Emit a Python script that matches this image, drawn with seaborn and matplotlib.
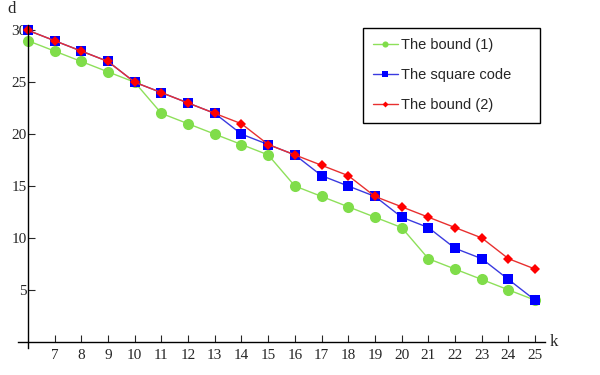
import pandas as pd
import matplotlib
matplotlib.use("Agg")
import matplotlib.pyplot as plt
import seaborn as sns

# data
k = list(range(6, 26))
bound1 = [29, 28, 27, 26, 25, 22, 21, 20, 19, 18, 15, 14, 13, 12, 11, 8, 7, 6, 5, 4]
square = [30, 29, 28, 27, 25, 24, 23, 22, 20, 19, 18, 16, 15, 14, 12, 11, 9, 8, 6, 4]
bound2 = [30, 29, 28, 27, 25, 24, 23, 22, 21, 19, 18, 17, 16, 14, 13, 12, 11, 10, 8, 7]

x_ticks = list(range(7, 26))
y_ticks = [5, 10, 15, 20, 25, 30]

df = pd.DataFrame({"k": k, "The bound (1)": bound1,
                   "The square code": square, "The bound (2)": bound2})

sns.set_style("white")
plt.rcParams["font.family"] = ["Liberation Serif", "DejaVu Serif"]

fig = plt.figure(figsize=(6, 3.75), dpi=100)
ax = fig.add_axes([0.03, 0.072, 0.878, 0.861])

sns.lineplot(data=df, x="k", y="The bound (1)", ax=ax, color="#8ee05a",
             marker="o", markersize=8, markeredgewidth=0, lw=1,
             markerfacecolor="#80dd4a", label="The bound (1)")
sns.lineplot(data=df, x="k", y="The square code", ax=ax, color="#3a3ae0",
             marker="s", markersize=7.5, markeredgewidth=0, lw=1,
             markerfacecolor="#0000ff", label="The square code")
sns.lineplot(data=df, x="k", y="The bound (2)", ax=ax, color="#e83030",
             marker="D", markersize=5.5, markeredgewidth=0, lw=1,
             markerfacecolor="#ff0000", label="The bound (2)")

ax.set_xlim(5.63, 25.36)
ax.set_ylim(-0.6, 30.5)
ax.set_xlabel("")
ax.set_ylabel("")

# axes crossing at (6, 0) like the original
ax.spines["left"].set_position(("data", 6))
ax.spines["bottom"].set_position(("data", 0))
ax.spines["right"].set_visible(False)
ax.spines["top"].set_visible(False)
for s in ("left", "bottom"):
    ax.spines[s].set_color("black")
    ax.spines[s].set_linewidth(1.0)

ax.set_xticks(x_ticks)
ax.set_yticks(y_ticks)
ax.tick_params(axis="x", direction="in", length=5, width=0.8, pad=5,
               labelsize=11, bottom=True)
ax.tick_params(axis="y", direction="in", length=5, width=0.8, pad=1,
               labelsize=11, left=True)

ax.text(25.55, 0, "k", fontsize=12, va="center", ha="left", clip_on=False)
ax.text(5.4, 31.3, "d", fontsize=12, va="bottom", ha="center", clip_on=False)

leg = ax.legend(loc="upper left", bbox_to_anchor=(0.6546, 0.991, 0.336, 0),
                mode="expand",
                prop={"family": "Liberation Sans", "size": 10.5},
                frameon=True, fancybox=False, framealpha=1, edgecolor="black",
                handlelength=1.7, handletextpad=0.2, labelspacing=1.1,
                borderpad=0.7, borderaxespad=0, markerscale=0.55)
leg.get_frame().set_linewidth(1.0)

fig.savefig("out.png", dpi=100)
